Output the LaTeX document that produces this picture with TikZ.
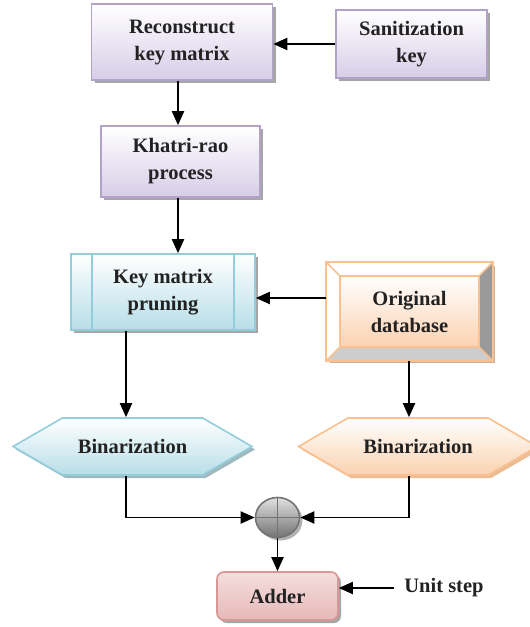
\documentclass[tikz,border=0pt]{standalone}
\usepackage{fontspec}
\setmainfont{Liberation Serif}
\usetikzlibrary{arrows.meta,shapes.symbols,shapes.geometric,shadows,calc}

\definecolor{purpline}{HTML}{B3A2C7}
\definecolor{purpfill}{HTML}{D7CDE7}
\definecolor{blueline}{HTML}{92CDDC}
\definecolor{bluefill}{HTML}{B7DEE8}
\definecolor{orgline}{HTML}{FAC090}
\definecolor{orgfill}{HTML}{FBD2B0}
\definecolor{pinkline}{HTML}{D99694}
\definecolor{pinktop}{HTML}{F4DEDD}
\definecolor{pinkfill}{HTML}{E6B9B8}
\definecolor{txt}{HTML}{222222}
\definecolor{bevdark}{HTML}{9A9A9A}
\definecolor{bevlight}{HTML}{CDCDCD}

\tikzset{
  lbl/.style={font=\fontsize{20.5}{27}\selectfont\bfseries, text=txt, align=center},
  shad/.style={drop shadow={shadow xshift=3pt, shadow yshift=-3pt, fill=#1, opacity=1}},
  purplebox/.style={lbl, draw=purpline, line width=1.6pt, top color=white,
    bottom color=purpfill, shad=black!35, inner sep=0pt},
  bluebox/.style={lbl, draw=blueline, line width=1.6pt, top color=white,
    bottom color=bluefill, shad=black!35, inner sep=0pt},
  orgface/.style={lbl, draw=orgline, line width=1.6pt, top color=white,
    bottom color=orgfill, inner sep=0pt},
  hexbase/.style={lbl, signal, signal to=west and east, signal pointer angle=60,
    line width=1.6pt, inner sep=0pt, minimum height=57pt, minimum width=239pt},
  bluehex/.style={hexbase, draw=blueline, top color=white, bottom color=bluefill,
    shad=bluefill!60!gray},
  orghex/.style={hexbase, draw=orgline, top color=white, bottom color=orgfill,
    shad=orgfill!75!brown},
  sumnode/.style={ellipse, draw=black!55, line width=1.6pt, top color=black!12,
    bottom color=black!55, minimum width=44pt, minimum height=40pt, inner sep=0pt,
    shad=black!30},
  pinkbox/.style={lbl, draw=pinkline, line width=1.6pt, rounded corners=7pt,
    top color=pinktop, bottom color=pinkfill, shad=black!35, inner sep=0pt},
  conn/.style={line width=1.9pt, black},
  arr/.style={conn, -{Triangle[length=14pt,width=12pt]}},
}

\begin{document}
\begin{tikzpicture}[x=1pt,y=-1pt]
\useasboundingbox (0,0) rectangle (530,627);
\clip (0,0) rectangle (530,627);

% key reconstruction chain
\node[purplebox, minimum width=181pt, minimum height=76pt] (rec) at (182,42) {Reconstruct\\key matrix};
\node[purplebox, minimum width=151pt, minimum height=68pt] (san) at (411.5,44) {Sanitization\\key};
\node[purplebox, minimum width=159pt, minimum height=71pt] (kr) at (180.5,161.5) {Khatri-rao\\process};

% predefined-process box with side bars
\node[bluebox, minimum width=184pt, minimum height=76pt] (kmp) at (163,292) {Key matrix\\pruning};
\draw[blueline, line width=1.6pt] ($(kmp.north west)+(22,0)$) -- ($(kmp.south west)+(22,0)$);
\draw[blueline, line width=1.6pt] ($(kmp.north east)+(-22,0)$) -- ($(kmp.south east)+(-22,0)$);

% bevelled database block
\node[draw=orgline, line width=1.6pt, fill=white, shad=orgfill!60!gray,
      minimum width=165pt, minimum height=97pt, inner sep=0pt] (org) at (409.5,311.5) {};
\fill[white] (org.north west) -- (org.north east) -- ($(org.north east)+(-13,13)$)
  -- ($(org.north west)+(13,13)$) -- cycle;
\fill[white] (org.north west) -- ($(org.north west)+(13,13)$)
  -- ($(org.south west)+(13,-13)$) -- (org.south west) -- cycle;
\fill[bevdark] (org.north east) -- (org.south east) -- ($(org.south east)+(-13,-13)$)
  -- ($(org.north east)+(-13,13)$) -- cycle;
\fill[bevlight] (org.south west) -- (org.south east) -- ($(org.south east)+(-13,-13)$)
  -- ($(org.south west)+(13,-13)$) -- cycle;
\node[orgface, minimum width=139pt, minimum height=71pt] (orgf) at (org.center) {Original\\database};
\draw[orgline, line width=1.6pt]
  (org.north west) -- (orgf.north west) (org.north east) -- (orgf.north east)
  (org.south west) -- (orgf.south west) (org.south east) -- (orgf.south east);
\draw[orgline, line width=1.6pt] (org.north west) rectangle (org.south east);

% binarization stages
\node[bluehex] (binl) at (132.5,446.5) {Binarization};
\node[orghex] (binr) at (418,446.5) {Binarization};

% summing junction
\node[sumnode] (sum) at (277.5,517.5) {};
\draw[black!55, line width=1.6pt] (sum.north) -- (sum.south) (sum.west) -- (sum.east);

% adder and its input
\node[pinkbox, minimum width=121pt, minimum height=48pt] (add) at (277.5,596) {Adder};
\node[lbl, inner sep=0pt] (us) at (444,588) {Unit step};

% connectors
\coordinate (xa) at (178,0);
\coordinate (xl) at (126,0);
\coordinate (xr) at (409,0);
\coordinate (ya) at (0,298);
\draw[arr] (san.west) -- (san.west -| rec.east);
\draw[arr] (rec.south -| xa) -- (kr.north -| xa);
\draw[arr] (kr.south -| xa) -- (kmp.north -| xa);
\draw[arr] (org.west |- ya) -- (kmp.east |- ya);
\draw[arr] (kmp.south -| xl) -- (binl.north -| xl);
\draw[arr] (org.south -| xr) -- (binr.north -| xr);
\draw[arr] (binl.south -| xl) |- (sum.west);
\draw[arr] (binr.south -| xr) |- (sum.east);
\draw[arr] (sum.south) -- (add.north);
\draw[arr, shorten <=10pt] (us.west) -- (us.west -| add.east);
\end{tikzpicture}
\end{document}
